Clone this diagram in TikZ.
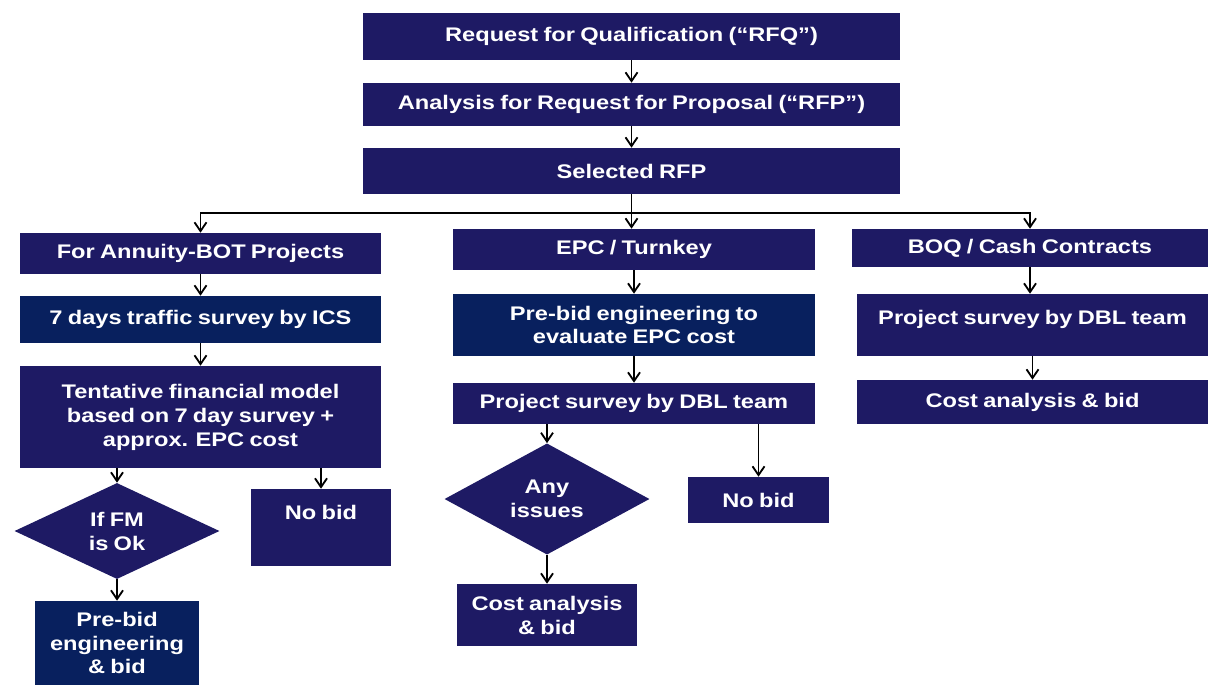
\documentclass[tikz,border=0pt]{standalone}
\usepackage{fontspec}
\setmainfont{Liberation Sans}[FakeStretch=1.2, WordSpace=0.8]
\usetikzlibrary{arrows.meta,shapes.geometric,fit}
\definecolor{navy}{RGB}{30,26,100}
\definecolor{deepblue}{RGB}{8,32,94}

\begin{document}
\begin{tikzpicture}[x=0.025cm, y=-0.025cm,
    boxtext/.style={text=white, align=center,
      font=\fontsize{14}{17}\selectfont\bfseries},
    box/.style={fill=navy, inner sep=0pt, label={[boxtext]center:{#1}}},
    bluebox/.style={box={#1}, fill=deepblue},
    topbox/.style={fill=navy, inner sep=0pt,
      label={[boxtext, anchor=north, yshift=-0.3cm]north:{#1}}},
    decision/.style={boxtext, fill=navy, inner sep=0pt, diamond,
      minimum width=5.125cm, minimum height=2.4cm},
    flow/.style={-{Straight Barb[length=2.2mm, width=3mm]}, line width=1.3pt}]
  \useasboundingbox (0,0) rectangle (1208,685);

  % top
  \node [box={Request for Qualification (“RFQ”)}, fit={(363,13) (900,60)}] (rfq) {};
  \node [box={Analysis for Request for Proposal (“RFP”)}, fit={(363,83) (900,126)}] (rfp) {};
  \node [box={Selected RFP}, fit={(363,148) (900,194)}] (selrfp) {};
  \coordinate (bus) at (632,213);

  % annuity
  \node [box={For Annuity-BOT Projects}, fit={(20,233) (381,274)}] (annuity) {};
  \node [bluebox={7 days traffic survey by ICS}, fit={(20,296) (381,343)}] (traffic) {};
  \node [box={Tentative financial model\\based on 7 day survey +\\approx. EPC cost},
    fit={(20,366) (381,468)}] (model) {};
  \node [decision] (fmok) at (117,531) {If FM\\is Ok};
  \node [topbox={No bid}, fit={(251,489) (391,566)}] (nobida) {};
  \node [bluebox={Pre-bid\\engineering\\\& bid}, fit={(35,601) (199,685)}] (prebid) {};

  % EPC
  \node [box={EPC / Turnkey}, fit={(453,229) (815,270)}] (epc) {};
  \node [bluebox={Pre-bid engineering to\\evaluate EPC cost}, fit={(453,294) (815,356)}] (engg) {};
  \node [box={Project survey by DBL team}, fit={(453,383) (815,424)}] (surveyb) {};
  \node [decision] (issues) at (547,499) {Any\\issues};
  \node [box={No bid}, fit={(688,477) (829,523)}] (nobidb) {};
  \node [box={Cost analysis\\\& bid}, fit={(457,584) (637,646)}] (costb) {};

  % BOQ
  \node [box={BOQ / Cash Contracts}, fit={(852,229) (1208,267)}] (boq) {};
  \node [topbox={Project survey by DBL team}, fit={(857,294) (1208,356)}] (surveyc) {};
  \node [box={Cost analysis \& bid}, fit={(857,380) (1208,424)}] (costc) {};

  % connectors
  \draw [flow] (rfq) -- (rfp);
  \draw [flow] (rfp) -- (selrfp);
  \draw [flow] (selrfp.south) -- (selrfp.south |- epc.north);
  \draw [flow] (bus) -| (annuity.north);
  \draw [flow] (bus) -| (boq.north);

  \draw [flow] (annuity) -- (traffic);
  \draw [flow] (traffic) -- (model);
  \draw [flow] (model.south -| fmok.north) -- (fmok.north);
  \draw [flow] (model.south -| nobida.north) -- (nobida.north);
  \draw [flow] (fmok.south) -- (fmok.south |- prebid.north);

  \draw [flow] (epc) -- (engg);
  \draw [flow] (engg) -- (surveyb);
  \draw [flow] (surveyb.south -| issues.north) -- (issues.north);
  \draw [flow] (surveyb.south -| nobidb.north) -- (nobidb.north);
  \draw [flow] (issues.south) -- (issues.south |- costb.north);

  \draw [flow] (boq.south) -- (boq.south |- surveyc.north);
  \draw [flow] (surveyc.south) -- (surveyc.south |- costc.north);
\end{tikzpicture}
\end{document}
